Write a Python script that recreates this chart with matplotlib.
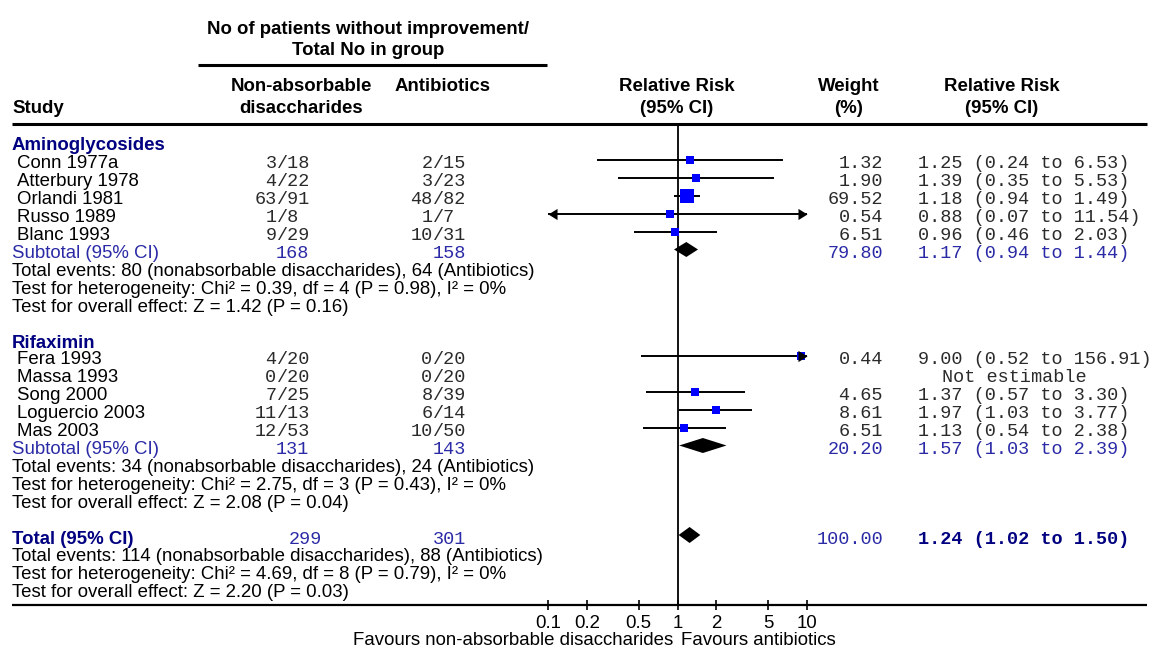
import matplotlib
matplotlib.use('Agg')
import matplotlib.pyplot as plt
from matplotlib.path import Path
from matplotlib.ticker import NullLocator
import numpy as np

# ---------------- data ----------------
group_names = ['Aminoglycosides', 'Rifaximin']

studies1 = ['Conn 1977a', 'Atterbury 1978', 'Orlandi 1981', 'Russo 1989', 'Blanc 1993']
ev_nad1 = [3, 4, 63, 1, 9]
n_nad1 = [18, 22, 91, 8, 29]
ev_ab1 = [2, 3, 48, 1, 10]
n_ab1 = [15, 23, 82, 7, 31]
weight1 = [1.32, 1.90, 69.52, 0.54, 6.51]
rr1 = [1.25, 1.39, 1.18, 0.88, 0.96]
lo1 = [0.24, 0.35, 0.94, 0.07, 0.46]
hi1 = [6.53, 5.53, 1.49, 11.54, 2.03]

studies2 = ['Fera 1993', 'Massa 1993', 'Song 2000', 'Loguercio 2003', 'Mas 2003']
ev_nad2 = [4, 0, 7, 11, 12]
n_nad2 = [20, 20, 25, 13, 53]
ev_ab2 = [0, 0, 8, 6, 10]
n_ab2 = [20, 20, 39, 14, 50]
weight2 = [0.44, None, 4.65, 8.61, 6.51]
rr2 = [9.00, None, 1.37, 1.97, 1.13]
lo2 = [0.52, None, 0.57, 1.03, 0.54]
hi2 = [156.91, None, 3.30, 3.77, 2.38]

# subtotals: [group1, group2, total]
tot_n_nad = [168, 131, 299]
tot_n_ab = [158, 143, 301]
tot_weight = [79.80, 20.20, 100.00]
tot_rr = [1.17, 1.57, 1.24]
tot_lo = [0.94, 1.03, 1.02]
tot_hi = [1.44, 2.39, 1.50]
tot_ev_nad = [80, 34, 114]
tot_ev_ab = [64, 24, 88]
chi2 = [0.39, 2.75, 4.69]
chi_df = [4, 3, 8]
chi_p = [0.98, 0.43, 0.79]
i2 = [0, 0, 0]
z_val = [1.42, 2.08, 2.20]
z_p = [0.16, 0.04, 0.03]

tick_vals = [0.1, 0.2, 0.5, 1, 2, 5, 10]
tick_labels = ['0.1', '0.2', '0.5', '1', '2', '5', '10']

# ---------------- style ----------------
W, H, DPI = 1153, 649, 100
SANS = 'Liberation Sans'
MONO = 'Liberation Mono'
FS = 13.4
FM = 13.3
NAVY = '#000080'
BLUE_TXT = '#2a2aa6'
SQ = '#0000ff'
MONO_COL = '#2a2a2a'
plt.rcParams['font.family'] = [SANS, 'DejaVu Sans']

fig = plt.figure(figsize=(W / DPI, H / DPI), dpi=DPI)
fig.patch.set_facecolor('white')
ax0 = fig.add_axes([0, 0, 1, 1])
ax0.set_xlim(0, W)
ax0.set_ylim(H, 0)
ax0.axis('off')

X0, X1 = 548, 807
YT, YB = 124, 605
ax = fig.add_axes([X0 / W, (H - YB) / H, (X1 - X0) / W, (YB - YT) / H])
ax.set_xscale('log')
ax.set_xlim(0.1, 10)
ax.set_ylim(YB, YT)
ax.patch.set_alpha(0)
for s in ax.spines.values():
    s.set_visible(False)
ax.set_xticks(tick_vals)
ax.set_xticklabels(tick_labels)
ax.xaxis.set_minor_locator(NullLocator())
ax.set_yticks([])
ax.tick_params(axis='x', direction='inout', length=7, width=1.2, pad=4,
               labelsize=FS, colors='black')
ax.axvline(1, color='black', lw=1.3, zorder=1)

LEFT_ARROW = Path([(0, 0), (1, 0.62), (1, -0.62), (0, 0)],
                  [Path.MOVETO, Path.LINETO, Path.LINETO, Path.CLOSEPOLY])
RIGHT_ARROW = Path([(0, 0), (-1, 0.62), (-1, -0.62), (0, 0)],
                   [Path.MOVETO, Path.LINETO, Path.LINETO, Path.CLOSEPOLY])

BASE = 8.5  # baseline offset from row centre


def txt(x, y, s, ha='left', mono=False, bold=False, color='black', fs=None):
    ax0.text(x, y + BASE, s, ha=ha, va='baseline',
             family=[MONO, 'DejaVu Sans Mono'] if mono else [SANS, 'DejaVu Sans'],
             fontsize=fs if fs else (FM if mono else FS),
             fontweight='bold' if bold else 'normal', color=color)


NAD_SLASH, AB_SLASH = 276.5, 432.5
X_WEIGHT, X_RR = 883, 918


def counts(y, e1, n1, e2, n2):
    txt(NAD_SLASH, y, str(e1), ha='right', mono=True, color=MONO_COL)
    txt(NAD_SLASH, y, '/' + str(n1), ha='left', mono=True, color=MONO_COL)
    txt(AB_SLASH, y, str(e2), ha='right', mono=True, color=MONO_COL)
    txt(AB_SLASH, y, '/' + str(n2), ha='left', mono=True, color=MONO_COL)


def study_mark(y, rr, lo, hi, w):
    l = max(lo, 0.1)
    h = min(hi, 10)
    ax.plot([l, h], [y, y], color='black', lw=1.4, clip_on=False, zorder=2,
            solid_capstyle='butt')
    ms = max(5.4, 1.2 * np.sqrt(w))
    ax.plot([rr], [y], marker='s', ms=ms, color=SQ, mec=SQ, mew=0,
            clip_on=False, zorder=3, ls='none')
    if lo < 0.1:
        ax.plot([0.1], [y], marker=LEFT_ARROW, ms=13, color='black', mew=0,
                clip_on=False, zorder=4, ls='none')
    if hi > 10:
        ax.plot([10], [y], marker=RIGHT_ARROW, ms=13, color='black', mew=0,
                clip_on=False, zorder=4, ls='none')


def diamond(y, rr, lo, hi, hh=7.5):
    ax.fill([lo, rr, hi, rr], [y, y - hh, y, y + hh], color='black', lw=0,
            clip_on=False, zorder=3)


def stats_lines(y0, k, step):
    txt(12, y0, f'Total events: {tot_ev_nad[k]} (nonabsorbable disaccharides), '
                f'{tot_ev_ab[k]} (Antibiotics)')
    txt(12, y0 + step, f'Test for heterogeneity: Chi\u00b2 = {chi2[k]:.2f}, '
                       f'df = {chi_df[k]} (P = {chi_p[k]:.2f}), I\u00b2 = {i2[k]}%')
    txt(12, y0 + 2 * step, f'Test for overall effect: Z = {z_val[k]:.2f} '
                           f'(P = {z_p[k]:.2f})')


# ---------------- header ----------------
hb = lambda x, yb, s, ha='center': ax0.text(x, yb, s, ha=ha, va='baseline',
                                             fontsize=FS, fontweight='bold',
                                             family=[SANS, 'DejaVu Sans'])
hb(368, 34, 'No of patients without improvement/')
hb(368, 55, 'Total No in group')
hb(301, 91, 'Non-absorbable')
hb(301, 113, 'disaccharides')
hb(443, 91, 'Antibiotics')
hb(12, 113, 'Study', ha='left')
hb(677, 91, 'Relative Risk')
hb(677, 113, '(95% CI)')
hb(849, 91, 'Weight')
hb(849, 113, '(%)')
hb(1002, 91, 'Relative Risk')
hb(1002, 113, '(95% CI)')
ax0.plot([198, 547], [64.5, 64.5], color='black', lw=2.2, solid_capstyle='butt')
ax0.plot([12, 1147], [124, 124], color='black', lw=2.2, solid_capstyle='butt')
ax0.plot([12, 1147], [605, 605], color='black', lw=1.6, solid_capstyle='butt')

STEP = 17.9
groups = [
    (142, 160, studies1, ev_nad1, n_nad1, ev_ab1, n_ab1, weight1, rr1, lo1, hi1),
    (339.5, 356, studies2, ev_nad2, n_nad2, ev_ab2, n_ab2, weight2, rr2, lo2, hi2),
]
for k, (yh, ys, names, en, nn, ea, na, ww, rr, lo, hi) in enumerate(groups):
    txt(12, yh, group_names[k], bold=True, color=NAVY)
    for i, name in enumerate(names):
        y = ys + STEP * i
        txt(17, y, name)
        counts(y, en[i], nn[i], ea[i], na[i])
        if rr[i] is None:
            txt(1014, y, 'Not estimable', ha='center', mono=True, color=MONO_COL)
        else:
            study_mark(y, rr[i], lo[i], hi[i], ww[i])
            txt(X_WEIGHT, y, f'{ww[i]:.2f}', ha='right', mono=True, color=MONO_COL)
            txt(X_RR, y, f'{rr[i]:.2f} ({lo[i]:.2f} to {hi[i]:.2f})', mono=True,
                color=MONO_COL)
    ysub = ys + STEP * len(names)
    txt(12, ysub, 'Subtotal (95% CI)', color=BLUE_TXT)
    txt(309, ysub, str(tot_n_nad[k]), ha='right', mono=True, color=BLUE_TXT)
    txt(466, ysub, str(tot_n_ab[k]), ha='right', mono=True, color=BLUE_TXT)
    txt(X_WEIGHT, ysub, f'{tot_weight[k]:.2f}', ha='right', mono=True, color=BLUE_TXT)
    txt(X_RR, ysub, f'{tot_rr[k]:.2f} ({tot_lo[k]:.2f} to {tot_hi[k]:.2f})',
        mono=True, color=BLUE_TXT)
    diamond(ysub, tot_rr[k], tot_lo[k], tot_hi[k])
    stats_lines(ysub + STEP, k, STEP)

# overall total
yt = 535
txt(12, yt, 'Total (95% CI)', bold=True, color=NAVY)
txt(322, yt, str(tot_n_nad[2]), ha='right', mono=True, color=BLUE_TXT)
txt(466, yt, str(tot_n_ab[2]), ha='right', mono=True, color=BLUE_TXT)
txt(X_WEIGHT, yt, f'{tot_weight[2]:.2f}', ha='right', mono=True, color=BLUE_TXT)
txt(X_RR, yt, f'{tot_rr[2]:.2f} ({tot_lo[2]:.2f} to {tot_hi[2]:.2f})',
    mono=True, bold=True, color=NAVY)
diamond(yt, tot_rr[2], tot_lo[2], tot_hi[2], hh=8)
stats_lines(yt + STEP, 2, STEP)

# favours labels
ax0.text(673, 645, 'Favours non-absorbable disaccharides', ha='right', va='baseline',
         fontsize=FS)
ax0.text(681, 645, 'Favours antibiotics', ha='left', va='baseline', fontsize=FS)

fig.savefig('out.png', dpi=DPI, facecolor='white')
